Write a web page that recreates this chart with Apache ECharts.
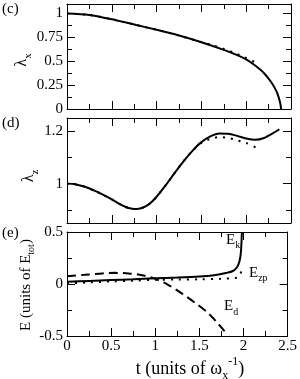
<!DOCTYPE html>
<html><head><meta charset="utf-8">
<script src="https://cdn.jsdelivr.net/npm/echarts@6/dist/echarts.min.js"></script>
<style>html,body{margin:0;padding:0;background:#fff}#c{width:300px;height:379px}</style>
</head><body><div id="c"></div>
<script>
// ---- tick values ----
const tTicks = [0, 0.5, 1, 1.5, 2, 2.5];
const tMinor = [0.25, 0.75, 1.25, 1.75, 2.25];
const lxTicks = [0, 0.25, 0.5, 0.75, 1];
const lxMinor = [0.125, 0.375, 0.625, 0.875];
const lzTicks = [1, 1.2];
const lzMinor = [0.9, 1.1];
const eTicks = [-0.5, 0, 0.5];
const eMinor = [-0.25, 0.25];

// ---- panel (c): lambda_x ----
const lxSolidT = [0, 0.25, 0.5, 0.75, 1.0, 1.25, 1.5, 1.75, 1.9, 2.0, 2.1, 2.2, 2.28, 2.33, 2.36, 2.38, 2.39];
const lxSolidV = [1.0, 0.985, 0.94, 0.885, 0.83, 0.77, 0.70, 0.62, 0.565, 0.52, 0.455, 0.375, 0.28, 0.20, 0.13, 0.06, 0.0];
const lxDotT = [0, 0.25, 0.5, 0.75, 1.0, 1.25, 1.5, 1.6, 1.75, 1.9, 2.0, 2.11];
const lxDotV = [1.0, 0.985, 0.94, 0.885, 0.83, 0.77, 0.70, 0.675, 0.63, 0.575, 0.535, 0.485];

// ---- panel (d): lambda_z ----
const lzSolidT = [0, 0.1, 0.2, 0.3, 0.4, 0.5, 0.6, 0.65, 0.7, 0.75, 0.8, 0.85, 0.9, 0.95, 1.0, 1.1, 1.2, 1.3, 1.4, 1.5, 1.6, 1.7, 1.8, 1.9, 2.0, 2.1, 2.2, 2.3, 2.37];
const lzSolidV = [1.0, 0.997, 0.988, 0.974, 0.958, 0.94, 0.92, 0.912, 0.906, 0.903, 0.904, 0.909, 0.918, 0.932, 0.95, 0.993, 1.04, 1.085, 1.125, 1.158, 1.18, 1.191, 1.19, 1.182, 1.172, 1.167, 1.174, 1.192, 1.207];
const lzDotT = [0, 0.1, 0.2, 0.3, 0.4, 0.5, 0.6, 0.65, 0.7, 0.75, 0.8, 0.85, 0.9, 0.95, 1.0, 1.1, 1.2, 1.3, 1.4, 1.5, 1.6, 1.7, 1.8, 1.9, 2.0, 2.105];
const lzDotV = [1.0, 0.997, 0.988, 0.974, 0.958, 0.94, 0.92, 0.912, 0.906, 0.903, 0.904, 0.909, 0.918, 0.932, 0.95, 0.993, 1.04, 1.085, 1.125, 1.155, 1.17, 1.177, 1.174, 1.165, 1.155, 1.138];

// ---- panel (e): energies ----
const ekT = [0, 0.25, 0.5, 0.75, 1.0, 1.25, 1.5, 1.67, 1.8, 1.88, 1.93, 1.955, 1.97, 1.977, 1.982];
const ekV = [0.022, 0.03, 0.038, 0.046, 0.055, 0.062, 0.072, 0.085, 0.105, 0.125, 0.166, 0.22, 0.30, 0.40, 0.5];
const edT = [0, 0.2, 0.4, 0.55, 0.7, 0.85, 1.0, 1.15, 1.3, 1.45, 1.6, 1.7, 1.78, 1.8];
const edV = [0.075, 0.088, 0.102, 0.107, 0.102, 0.085, 0.05, -0.01, -0.09, -0.18, -0.28, -0.37, -0.45, -0.5];
const ezT = [0, 0.25, 0.5, 0.75, 1.0, 1.25, 1.5, 1.75, 1.9, 1.95, 1.99];
const ezV = [0.005, 0.015, 0.025, 0.032, 0.04, 0.043, 0.045, 0.05, 0.058, 0.07, 0.17];

const F = '"Liberation Serif","Times New Roman",serif';
const grids = [
  {left: 67, top: 4, width: 224, height: 105},
  {left: 67, top: 118, width: 224, height: 105},
  {left: 67, top: 232, width: 224, height: 104}
];
const yRanges = [[0, 1.1], [0.85, 1.25], [-0.5, 0.5]];
const yMaj = [lxTicks, lzTicks, eTicks];
const yMin = [lxMinor, lzMinor, eMinor];

function ax(gi, pos, min, max, vals, len, line, labels, margin) {
  return {
    type: 'value', gridIndex: gi, position: pos, min: min, max: max,
    axisLine: {show: line, onZero: false, lineStyle: {color: '#000', width: 1}},
    axisTick: {show: true, inside: true, length: len, customValues: vals, lineStyle: {color: '#000', width: 1}},
    axisLabel: {show: labels, customValues: vals, formatter: v => String(v), color: '#000',
      fontFamily: F, fontSize: 15, margin: margin},
    splitLine: {show: false}, minorTick: {show: false}, splitArea: {show: false}
  };
}
const xAxis = [], yAxis = [];
for (let gi = 0; gi < 3; gi++) {
  xAxis.push(ax(gi, 'bottom', 0, 2.5, tTicks, 8, true, gi === 2, 3));
  xAxis.push(ax(gi, 'top', 0, 2.5, tTicks, 8, true, false, 3));
  xAxis.push(ax(gi, 'bottom', 0, 2.5, tMinor, 5, false, false, 3));
  xAxis.push(ax(gi, 'top', 0, 2.5, tMinor, 5, false, false, 3));
  const [a, b] = yRanges[gi];
  yAxis.push(ax(gi, 'left', a, b, yMaj[gi], 8, true, true, 4));
  yAxis.push(ax(gi, 'right', a, b, yMaj[gi], 8, true, false, 4));
  yAxis.push(ax(gi, 'left', a, b, yMin[gi], 5, false, false, 4));
  yAxis.push(ax(gi, 'right', a, b, yMin[gi], 5, false, false, 4));
}

function pairs(ts, vs) { return ts.map((t, i) => [t, vs[i]]); }
function line(gi, ts, vs, type, z) {
  return {
    type: 'line', xAxisIndex: gi * 4, yAxisIndex: gi * 4, data: pairs(ts, vs),
    showSymbol: false, symbol: 'none', smooth: 0.3, z: z, silent: true,
    lineStyle: {color: '#000', width: 2, type: type, cap: 'butt'}
  };
}
const DOT = [2, 6];
const DASH = [9, 5];
const series = [
  line(0, lxDotT, lxDotV, DOT, 2),
  line(0, lxSolidT, lxSolidV, 'solid', 3),
  line(1, lzDotT, lzDotV, DOT, 2),
  line(1, lzSolidT, lzSolidV, 'solid', 3),
  line(2, ezT, ezV, DOT, 2),
  line(2, edT, edV, DASH, 2),
  line(2, ekT, ekV, 'solid', 3)
];

// ---- text with sub/superscripts built from pieces ----
const mctx = document.createElement('canvas').getContext('2d');
function tw(text, size) { mctx.font = size + 'px ' + F; return mctx.measureText(text).width; }
// pieces: [text, kind] kind: 'm' main, 's' sub, 'p' sup
function label(pieces, x0, yc, size, align) {
  const ss = Math.round(size * 0.67);
  const specs = pieces.map(([t, k]) => ({t, k, sz: k === 'm' ? size : ss}));
  let total = 0;
  specs.forEach(s => { s.w = tw(s.t, s.sz); total += s.w; });
  let x = align === 'center' ? x0 - total / 2 : x0;
  return specs.map(s => {
    const dy = s.k === 's' ? size * 0.36 : (s.k === 'p' ? -size * 0.38 : 0);
    const el = {type: 'text', x: x, y: yc + dy, silent: true,
      style: {text: s.t, fill: '#000', fontFamily: F, fontSize: s.sz, align: 'left', verticalAlign: 'middle'}};
    x += s.w;
    return el;
  });
}
function rot(cx, cy, pieces, size) {
  return {type: 'group', x: cx, y: cy, rotation: Math.PI / 2, silent: true,
    children: label(pieces, 0, 0, size, 'center')};
}
function pt(x, y, text) {
  return {type: 'text', x: x, y: y, silent: true,
    style: {text: text, fill: '#000', fontFamily: F, fontSize: 15, align: 'left', verticalAlign: 'top'}};
}
const graphic = [
  pt(2, 2, '(c)'), pt(2, 116, '(d)'), pt(2, 226, '(e)'),
  rot(22, 60, [['λ', 'm'], ['x', 's']], 16),
  rot(29, 176, [['λ', 'm'], ['z', 's']], 16),
  rot(26, 285, [['E (units of E', 'm'], ['tot', 's'], [')', 'm']], 15),
  ...label([['E', 'm'], ['k', 's']], 226, 240, 15, 'left'),
  ...label([['E', 'm'], ['zp', 's']], 249, 273, 15, 'left'),
  ...label([['E', 'm'], ['d', 's']], 224, 306.5, 15, 'left'),
  ...label([['t (units of ω', 'm'], ['x', 's'], ['-1', 'p'], [')', 'm']], 190, 369, 18, 'center')
];

const chart = echarts.init(document.getElementById('c'), null, {renderer: 'canvas'});
chart.setOption({
  animation: false, backgroundColor: '#fff',
  grid: grids, xAxis: xAxis, yAxis: yAxis, series: series, graphic: graphic
});
</script></body></html>
